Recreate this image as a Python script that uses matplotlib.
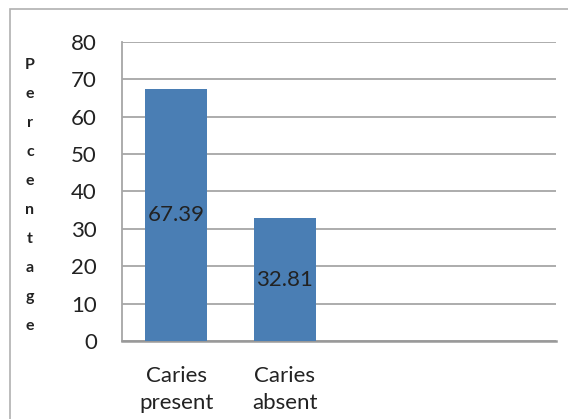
import matplotlib

matplotlib.use("Agg")
import matplotlib.pyplot as plt
from matplotlib.patches import Rectangle

plt.rcParams["font.family"] = ["Lato", "DejaVu Sans"]

categories = ["Caries\npresent", "Caries\nabsent", "", ""]
values = [67.39, 32.81, 0, 0]
value_labels = ["67.39", "32.81"]
yticks = [0, 10, 20, 30, 40, 50, 60, 70, 80]
ylabel = "Percentage"

BAR = "#4A7EB4"
GRID = "#A6A6A6"
TXT = "#222222"

fig = plt.figure(figsize=(5.68, 4.19), dpi=100)
ax = fig.add_axes([0.2148, 0.1862, 0.7641, 0.7136])

x = list(range(len(categories)))
ax.bar(x[:2], values[:2], width=0.57, color=BAR, zorder=3)
ax.set_xlim(-0.5, len(categories) - 0.5)
ax.set_ylim(0, 80)
ax.set_yticks(yticks)
ax.set_xticks(x)
ax.set_xticklabels(categories, fontsize=16, color=TXT, linespacing=1.45)
ax.tick_params(axis="y", labelsize=16, colors=TXT, length=0, pad=18)
ax.tick_params(axis="x", length=0, pad=18)
ax.yaxis.grid(True, color=GRID, linewidth=1.3, zorder=0)
ax.set_axisbelow(True)

for s in ["top", "right"]:
    ax.spines[s].set_visible(False)
ax.spines["left"].set_color(GRID)
ax.spines["left"].set_linewidth(1.3)
ax.spines["bottom"].set_color("#999999")
ax.spines["bottom"].set_linewidth(1.8)

for i, lab in enumerate(value_labels):
    ax.text(x[i], values[i] / 2, lab, ha="center", va="center",
            fontsize=16, color=TXT, zorder=4)

# stacked vertical axis title
for i, ch in enumerate(ylabel):
    fig.text(30 / 568, 1 - (65 + i * 29) / 419, ch, ha="center",
             va="center", fontsize=11.5, fontweight="bold", color=TXT)

# outer frame of the chart area
fig.patches.append(Rectangle((10 / 568, -0.05), 1.2, 1 - 9 / 419 + 0.05,
                             transform=fig.transFigure, fill=False,
                             edgecolor="#B0B0B0", linewidth=1.2))

fig.savefig("out.png", dpi=100, facecolor="white")
